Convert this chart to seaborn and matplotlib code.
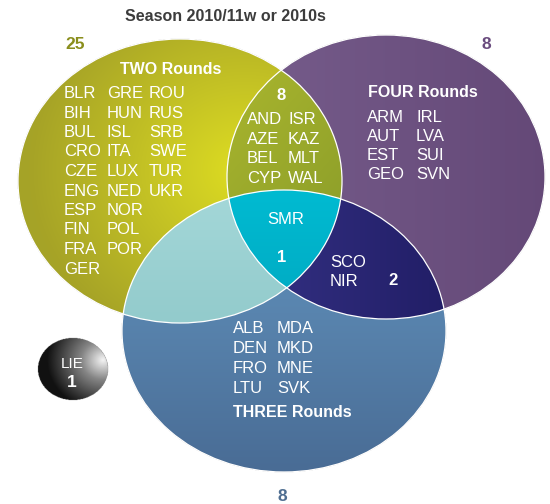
import numpy as np
import matplotlib
matplotlib.use("Agg")
import matplotlib.pyplot as plt
from matplotlib.colors import to_rgb
from matplotlib.patches import Ellipse
import seaborn as sns

# Venn data: clubs per number of qualifying rounds
title = "Season 2010/11w or 2010s"
two_col1 = ["BLR", "BIH", "BUL", "CRO", "CZE", "ENG", "ESP", "FIN", "FRA", "GER"]
two_col2 = ["GRE", "HUN", "ISL", "ITA", "LUX", "NED", "NOR", "POL", "POR"]
two_col3 = ["ROU", "RUS", "SRB", "SWE", "TUR", "UKR"]
two_four_col1 = ["AND", "AZE", "BEL", "CYP"]
two_four_col2 = ["ISR", "KAZ", "MLT", "WAL"]
four_col1 = ["ARM", "AUT", "EST", "GEO"]
four_col2 = ["IRL", "LVA", "SUI", "SVN"]
three_col1 = ["ALB", "DEN", "FRO", "LTU"]
three_col2 = ["MDA", "MKD", "MNE", "SVK"]
all_three = ["SMR"]
four_three = ["SCO", "NIR"]
outside = ["LIE"]

count_two, count_four, count_three = 25, 8, 8
count_two_four, count_all, count_four_three, count_outside = 8, 1, 2, 1

# layout (pixel space of a 550x504 canvas)
W, H = 550, 504
circ_a = (180, 181, 162, 142)   # cx, cy, rx, ry  TWO
circ_b = (386, 177, 159, 142)   # FOUR
circ_c = (284, 331, 162, 141)   # THREE
ball = (73, 369, 35, 31)

sns.set_theme(style="white")
plt.rcParams["font.family"] = ["Liberation Sans", "DejaVu Sans"]

res = 2
xs = (np.arange(W * res) + 0.5) / res
ys = (np.arange(H * res) + 0.5) / res
X, Y = np.meshgrid(xs, ys)


def inside(e):
    cx, cy, rx, ry = e
    return ((X - cx) / rx) ** 2 + ((Y - cy) / ry) ** 2 <= 1


def lerp(c1, c2, t):
    t = np.clip(t, 0, 1)[..., None]
    return np.array(to_rgb(c1)) * (1 - t) + np.array(to_rgb(c2)) * t


a, b, c, z = inside(circ_a), inside(circ_b), inside(circ_c), inside(ball)
img = np.zeros((H * res, W * res, 4))


def paint(mask, col):
    img[mask, :3] = col[mask]
    img[mask, 3] = 1


d = np.sqrt(((X - 245) / 215) ** 2 + ((Y - 170) / 190) ** 2)
paint(a & ~b & ~c, lerp("#dedd22", "#a6a327", d))
paint(b & ~a & ~c, lerp("#765c8b", "#644877", (X - 250) / 300))
paint(c & ~a & ~b, lerp("#5a86b0", "#496c95", (Y - 300) / 170))
paint(a & b & ~c, lerp("#a9b52e", "#90a12a", ((X - 230) / 110 + (Y - 70) / 130) / 2))
paint(a & c & ~b, lerp("#a3d7d8", "#93cbcc", (Y - 200) / 120))
paint(b & c & ~a, lerp("#302d7d", "#211d66", (X - 290) / 160))
paint(a & b & c, lerp("#00bad1", "#00adc5", (Y - 195) / 95))

# shaded sphere for the club outside all circles
db = np.sqrt(((X - 103) / 62) ** 2 + ((Y - 360) / 56) ** 2)
ball_col = np.where(db[..., None] < 0.35,
                    lerp("#f4f4f4", "#858585", db / 0.35),
                    lerp("#858585", "#111111", (db - 0.35) / 0.55))
paint(z, ball_col)

fig = plt.figure(figsize=(5.5, 5.04), dpi=100)
ax = fig.add_axes([0, 0, 1, 1])
ax.imshow(img, extent=(0, W, H, 0), interpolation="antialiased", zorder=1)
for e in (circ_a, circ_b, circ_c):
    ax.add_patch(Ellipse((e[0], e[1]), 2 * e[2], 2 * e[3], fill=False,
                         edgecolor="white", lw=0.9, zorder=2))
ax.set_xlim(0, W)
ax.set_ylim(H, 0)
ax.axis("off")


def txt(x, y, s, size=12, bold=False, color="white", ha="left"):
    ax.text(x, y, s, fontsize=size, fontweight="bold" if bold else "normal",
            color=color, ha=ha, va="baseline", zorder=3)


def column(x, y0, codes, dy):
    for i, code in enumerate(codes):
        txt(x, y0 + i * dy, code)


txt(225, 21, title, size=11.5, bold=True, color="#3c3c3c", ha="center")
txt(75, 49, str(count_two), size=12.5, bold=True, color="#8a8e1c", ha="center")
txt(486, 49, str(count_four), size=12.5, bold=True, color="#6a4c7e", ha="center")
txt(282, 501, str(count_three), size=12.5, bold=True, color="#4f6e91", ha="center")

txt(171, 74, "TWO Rounds", size=11.5, bold=True, ha="center")
column(64, 98, two_col1, 19.5)
column(107, 98, two_col2, 19.5)
column(149, 98, two_col3, 19.5)

txt(281, 100, str(count_two_four), size=12, bold=True, ha="center")
column(247, 124, two_four_col1, 19.7)
column(288, 124, two_four_col2, 19.7)

txt(423, 97, "FOUR Rounds", size=11.5, bold=True, ha="center")
column(367, 122, four_col1, 19)
column(416, 122, four_col2, 19)

txt(286, 224, all_three[0], ha="center")
txt(282, 262, str(count_all), size=12, bold=True, ha="center")

column(330, 267, four_three, 19)
txt(393, 285, str(count_four_three), size=12, bold=True, ha="center")

column(233, 333, three_col1, 20)
column(277, 333, three_col2, 20)
txt(233, 417, "THREE Rounds", size=11.5, bold=True)

txt(72, 368, outside[0], size=11, ha="center")
txt(72, 387, str(count_outside), size=12.5, bold=True, ha="center")

fig.savefig("out.png", dpi=100)
